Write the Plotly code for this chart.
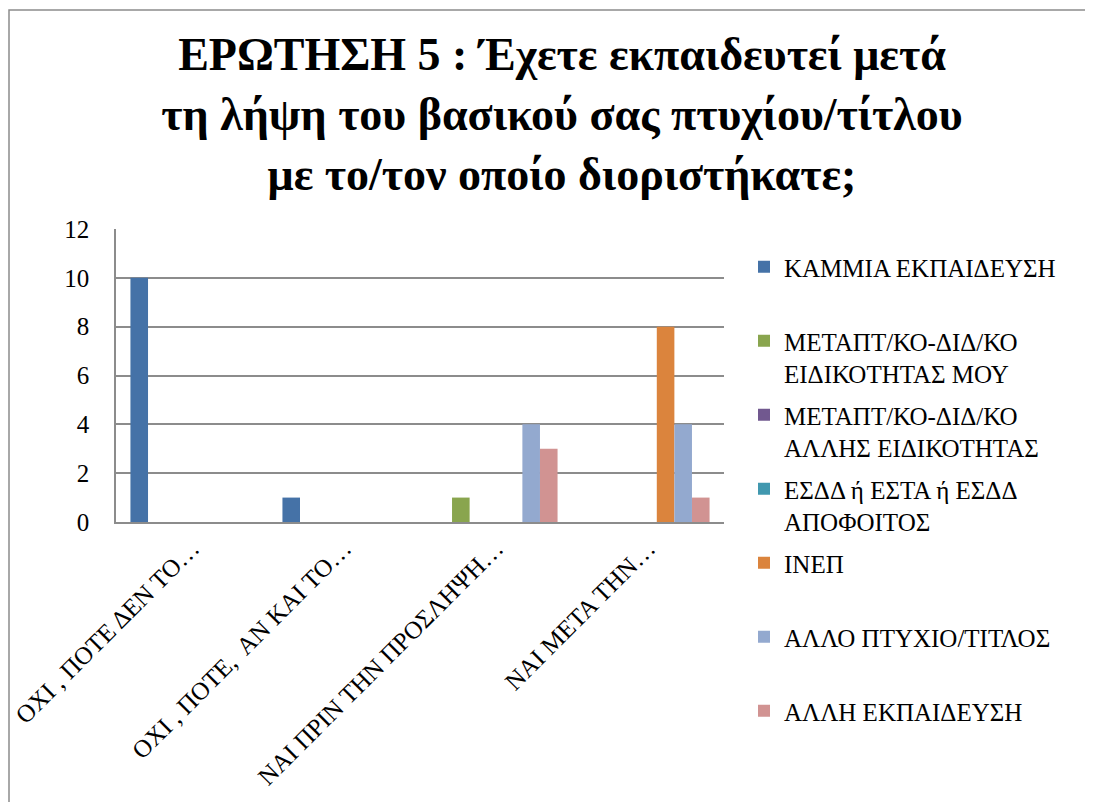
import plotly.graph_objects as go

font_family = 'Times New Roman, Liberation Serif, DejaVu Serif, serif'
grid_color = '#8c8c8c'

categories = ['ΟΧΙ , ΠΟΤΕ ΔΕΝ ΤΟ…', 'ΟΧΙ , ΠΟΤΕ,  ΑΝ ΚΑΙ ΤΟ…',
              'ΝΑΙ ΠΡΙΝ ΤΗΝ ΠΡΟΣΛΗΨΗ…', 'ΝΑΙ ΜΕΤΑ ΤΗΝ…']

series_names = ['ΚΑΜΜΙΑ ΕΚΠΑΙΔΕΥΣΗ',
                'ΜΕΤΑΠΤ/ΚΟ-ΔΙΔ/ΚΟ<br>ΕΙΔΙΚΟΤΗΤΑΣ ΜΟΥ',
                'ΜΕΤΑΠΤ/ΚΟ-ΔΙΔ/ΚΟ<br>ΑΛΛΗΣ ΕΙΔΙΚΟΤΗΤΑΣ',
                'ΕΣΔΔ ή ΕΣΤΑ ή ΕΣΔΔ<br>ΑΠΟΦΟΙΤΟΣ',
                'ΙΝΕΠ',
                'ΑΛΛΟ ΠΤΥΧΙΟ/ΤΙΤΛΟΣ',
                'ΑΛΛΗ ΕΚΠΑΙΔΕΥΣΗ']

kammia = [10, 1, 0, 0]
metapt_mou = [0, 0, 1, 0]
metapt_allis = [0, 0, 0, 0]
esdd = [0, 0, 0, 0]
inep = [0, 0, 0, 8]
allo_ptyxio = [0, 0, 4, 4]
alli_ekp = [0, 0, 3, 1]

series_values = [kammia, metapt_mou, metapt_allis, esdd, inep, allo_ptyxio, alli_ekp]
series_colors = ['#4572A7', '#89A54E', '#71588F', '#4198AF', '#DB843D', '#93A9CF', '#D19392']

y_ticks = [0, 2, 4, 6, 8, 10, 12]

title_text = ('<b>ΕΡΩΤΗΣΗ 5 : Έχετε εκπαιδευτεί μετά<br>'
              'τη λήψη του βασικού σας πτυχίου/τίτλου<br>'
              'με το/τον οποίο διοριστήκατε;</b>')

# the page body adds an 8px offset, so work in screen pixels minus 8
OFF = 8
W, H = 1093 - OFF, 802 - OFF
plot_left, plot_right, plot_top, plot_bottom = 116 - OFF, 724 - OFF, 229 - OFF, 522 - OFF
margin = dict(l=plot_left, r=W - plot_right, t=plot_top, b=H - plot_bottom, autoexpand=False)
pw = plot_right - plot_left
ph = plot_bottom - plot_top


def px_x(x):
    return (x - OFF - plot_left) / pw


def px_y(y):
    return (plot_bottom - (y - OFF)) / ph


data = []
for i, (name, vals, col) in enumerate(zip(series_names, series_values, series_colors)):
    # pad single-line names so every legend slot has the same height
    label = name if '<br>' in name else name + '<br> '
    data.append(go.Bar(x=categories, y=vals, name=label, marker=dict(color=col, line=dict(width=0)),
                       legendgroup=f'g{i}'))

layout = go.Layout(
    width=W, height=H,
    margin=margin,
    paper_bgcolor='white',
    plot_bgcolor='white',
    font=dict(family=font_family, size=25, color='black'),
    title=dict(text=title_text, x=(562 - OFF) / W, xanchor='center', y=1 - (70 - OFF) / H, yanchor='top',
               font=dict(family=font_family, size=46, color='black')),
    barmode='group',
    bargap=0.19,
    bargroupgap=0,
    xaxis=dict(showline=True, linecolor=grid_color, linewidth=1.5, tickangle=-45,
               ticks='', showgrid=False, ticklabelstandoff=0,
               tickfont=dict(family=font_family, size=25)),
    yaxis=dict(range=[0, 12], tickvals=y_ticks, showline=True, linecolor=grid_color, linewidth=1.5,
               showgrid=True, gridcolor=grid_color, gridwidth=1.5, ticks='',
               ticklabelstandoff=20, tickfont=dict(family=font_family, size=25), zeroline=False),
    legend=dict(x=px_x(744), xanchor='left', y=px_y(244),
                yanchor='top', valign='top', maxheight=760,
                tracegroupgap=6, font=dict(family=font_family, size=25), itemwidth=30,
                bgcolor='rgba(0,0,0,0)'),
)

fig = go.Figure(data=data, layout=layout)

# chart area frame
fig.add_shape(type='rect', xref='paper', yref='paper',
              x0=px_x(9), x1=px_x(1089), y0=px_y(810), y1=px_y(10),
              line=dict(color='#8c8c8c', width=1.5), layer='below')

fig.write_html("out.html")
